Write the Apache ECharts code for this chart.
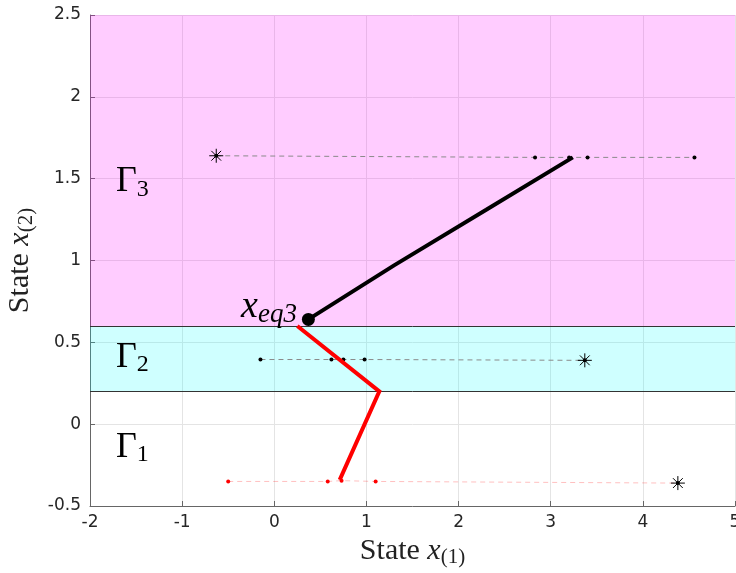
<!DOCTYPE html>
<html>
<head>
<meta charset="utf-8">
<script src="https://cdn.jsdelivr.net/npm/echarts@6/dist/echarts.min.js"></script>
<style>html,body{margin:0;padding:0;background:#fff}#c{width:736px;height:573px}</style>
</head>
<body>
<div id="c"></div>
<script>
// Axis ranges and ticks
const xTicks = [-2, -1, 0, 1, 2, 3, 4, 5];
const yTicks = [-0.5, 0, 0.5, 1, 1.5, 2, 2.5];

// Region bands (x2 bounds)
const gamma3Band = [0.6, 2.5];
const gamma2Band = [0.2, 0.6];
const bandEdges = [0.6, 0.2];

// State trajectories
const trajGamma3 = [[3.24, 1.63], [2.3, 1.31], [1.3, 0.97], [0.37, 0.64]];
const trajLower = [[0.71, -0.34], [1.14, 0.2], [0.25, 0.6]];
const eqPoint = [0.37, 0.64];

// Sampled rows (dots) and their star points
const row3Dots = [[2.83, 1.63], [3.2, 1.63], [3.4, 1.63], [4.56, 1.63]];
const row3Star = [-0.63, 1.64];
const row2Dots = [[-0.15, 0.395], [0.62, 0.395], [0.75, 0.395], [0.98, 0.395]];
const row2Star = [3.37, 0.39];
const row1Dots = [[-0.5, -0.35], [0.58, -0.35], [0.73, -0.345], [1.1, -0.35]];
const row1Star = [4.38, -0.36];

// Region label anchors
const regionLabels = [
  { pos: [-1.54, 1.48], sub: '3' },
  { pos: [-1.54, 0.41], sub: '2' },
  { pos: [-1.54, -0.14], sub: '1' }
];

const serif = 'Liberation Serif';
const starPath = 'path://M10,0L10,20M0,10L20,10M3,3L17,17M3,17L17,3';

function rowLine(dots, star, lineColor, dotColor) {
  const pts = dots.concat([star]).sort((a, b) => a[0] - b[0]);
  return [{
    type: 'line', data: pts, symbol: 'none', z: 5, silent: true,
    lineStyle: { color: lineColor, width: 1, type: [5, 4] }
  }, {
    type: 'scatter', data: dots, symbol: 'circle', symbolSize: 4, z: 6,
    itemStyle: { color: dotColor, opacity: 1 }
  }, {
    type: 'scatter', data: [star], symbol: starPath, symbolSize: 14, z: 7,
    symbolKeepAspect: true,
    itemStyle: { color: 'none', borderColor: '#000', borderWidth: 1, opacity: 1 }
  }, {
    type: 'scatter', data: [star], symbol: 'circle', symbolSize: 4, z: 7,
    itemStyle: { color: '#000', opacity: 1 }
  }];
}

const chart = echarts.init(document.getElementById('c'), null, { renderer: 'canvas' });

const axisTitleRich = {
  a: { fontFamily: serif, fontSize: 30, color: '#222' },
  b: { fontFamily: serif, fontStyle: 'italic', fontSize: 30, color: '#222' },
  c: { fontFamily: serif, fontSize: 21, color: '#222', padding: [13, 0, 0, 0] }
};

const option = {
  animation: false,
  grid: { left: 90, right: 1, top: 15, bottom: 67, containLabel: false, outerBoundsMode: 'none' },
  xAxis: {
    type: 'value', min: xTicks[0], max: xTicks[xTicks.length - 1], interval: 1,
    axisLine: { show: true, onZero: false, lineStyle: { color: '#666', width: 1 } },
    axisTick: { show: true, inside: true, length: 5, lineStyle: { color: '#666' } },
    axisLabel: { color: '#262626', fontSize: 17, fontFamily: 'DejaVu Sans', margin: 8 },
    splitLine: { show: true, lineStyle: { color: '#e4e4e4', width: 1 } },
    name: '{a|State }{b|x}{c|(1)}',
    nameLocation: 'middle', nameGap: 28,
    nameTextStyle: { rich: axisTitleRich }
  },
  yAxis: {
    type: 'value', min: yTicks[0], max: yTicks[yTicks.length - 1], interval: 0.5,
    axisLine: { show: true, onZero: false, lineStyle: { color: '#666', width: 1 } },
    axisTick: { show: true, inside: true, length: 5, lineStyle: { color: '#666' } },
    axisLabel: { color: '#262626', fontSize: 17, fontFamily: 'DejaVu Sans', margin: 9 },
    splitLine: { show: true, lineStyle: { color: '#e4e4e4', width: 1 } },
    name: '{a|State }{b|x}{c|(2)}',
    nameLocation: 'middle', nameGap: 48,
    nameTextStyle: { rich: axisTitleRich }
  },
  series: [
    {
      // region bands and their edges
      type: 'line', data: [], z: 1, silent: true,
      markArea: {
        silent: true,
        data: [
          [{ yAxis: gamma3Band[0], itemStyle: { color: 'rgba(255,0,255,0.2)' } }, { yAxis: gamma3Band[1] }],
          [{ yAxis: gamma2Band[0], itemStyle: { color: 'rgba(0,255,255,0.19)' } }, { yAxis: gamma2Band[1] }]
        ]
      },
      markLine: {
        silent: true, symbol: 'none', label: { show: false },
        lineStyle: { color: '#333', width: 1, type: 'solid' },
        data: bandEdges.map(v => ({ yAxis: v }))
      }
    },
    ...rowLine(row3Dots, row3Star, '#8a8a8a', '#000'),
    ...rowLine(row2Dots, row2Star, '#8a8a8a', '#000'),
    ...rowLine(row1Dots, row1Star, 'rgba(255,0,0,0.25)', '#ff0000'),
    {
      type: 'line', data: trajLower, symbol: 'none', z: 8,
      lineStyle: { color: '#ff0000', width: 4, join: 'miter' }
    },
    {
      type: 'line', data: trajGamma3, symbol: 'none', z: 9,
      lineStyle: { color: '#000', width: 4 }
    },
    {
      type: 'scatter', data: [eqPoint], symbol: 'circle', symbolSize: 13, z: 10,
      itemStyle: { color: '#000', opacity: 1 },
      label: {
        show: true, position: 'left', distance: 5, offset: [0, -12],
        formatter: '{x|x}{s|eq3}',
        rich: {
          x: { fontFamily: serif, fontStyle: 'italic', fontSize: 38, color: '#000' },
          s: { fontFamily: serif, fontStyle: 'italic', fontSize: 27, color: '#000', padding: [14, 0, 0, 0] }
        }
      }
    },
    {
      type: 'scatter', symbolSize: 0, z: 11, silent: true,
      itemStyle: { opacity: 1 },
      data: regionLabels.map(r => ({ value: r.pos, sub: r.sub })),
      label: {
        show: true, position: 'inside',
        formatter: p => '{g|Γ}{s|' + p.data.sub + '}',
        rich: {
          g: { fontFamily: serif, fontSize: 36, color: '#000' },
          s: { fontFamily: serif, fontSize: 24, color: '#000', padding: [16, 0, 0, 0] }
        }
      }
    }
  ]
};
chart.setOption(option);
</script>
</body>
</html>
